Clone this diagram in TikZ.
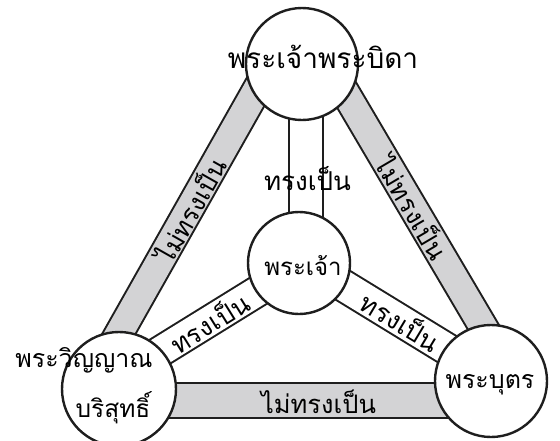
\documentclass[tikz,border=0pt]{standalone}
\usepackage{fontspec}
\newfontfamily\thai[Script=Thai]{Loma}
\definecolor{edge}{HTML}{1E1E1E}
\definecolor{bargrey}{HTML}{D3D3D5}
\begin{document}
\begin{tikzpicture}[x=1pt,y=-1pt,
  disc/.style={circle,draw=edge,line width=2.4pt,fill=white,inner sep=0pt},
  lbl/.style={inner sep=0pt,text=black},
  fs/.style={font=\thai\fontsize{#1}{#1}\selectfont}]
\useasboundingbox[fill=white] (0,0) rectangle (560,440);
% bar end coordinates
\coordinate (La) at (290.5,30);  \coordinate (Lb) at (81.5,400);
\coordinate (Ra) at (308.3,30);  \coordinate (Rb) at (526.3,400);
\coordinate (Ba) at (100,400.5); \coordinate (Bb) at (510,400.5);
\coordinate (Va) at (306,64);    \coordinate (Vb) at (306,263);
\coordinate (Pa) at (300,265);   \coordinate (Pb) at (119,377);
\coordinate (Qa) at (300,259);   \coordinate (Qb) at (491,376);
% outer grey bars
\foreach \a/\b/\w in {La/Lb/29,Ra/Rb/29,Ba/Bb/35}{
  \draw[edge,line width=\w pt+2pt] (\a) -- (\b);
  \draw[bargrey,line width=\w pt-2pt] (\a) -- (\b);
}
% inner white bars
\foreach \a/\b/\w in {Va/Vb/34,Pa/Pb/31,Qa/Qb/32}{
  \draw[edge,line width=\w pt+2pt] (\a) -- (\b);
  \draw[white,line width=\w pt-2pt] (\a) -- (\b);
}
% circles
\node[disc,minimum size=112pt] (father) at (302,64) {};
\node[disc,minimum size=114pt] (spirit) at (119,389) {};
\node[disc,minimum size=112pt] (son) at (491,381) {};
\node[disc,minimum size=102pt] (god) at (299,263) {};
% labels
\node[lbl,fs=28,anchor=base] (tfather) at (323,68) {พระเจ้าพระบิดา};
\node[lbl,fs=24,anchor=base] (tgod) at (303,275) {พระเจ้า};
\node[lbl,fs=25,anchor=base] (tson) at (490,388) {พระบุตร};
\node[lbl,fs=25,anchor=base] (tspirit1) at (84,367) {พระวิญญาณ};
\node[lbl,fs=24.5,anchor=base] (tspirit2) at (113,417) {บริสุทธิ์};
\node[lbl,fs=26,anchor=base] (tv) at (307.5,190) {ทรงเป็น};
\node[lbl,fs=25.5,anchor=base] (tb) at (318.5,413) {ไม่ทรงเป็น};
\node[lbl,fs=25.5,rotate=60.5] (tl) at (190,210) {ไม่ทรงเป็น};
\node[lbl,fs=25.5,rotate=-59.5] (tr) at (413,207) {ไม่ทรงเป็น};
\node[lbl,fs=26,rotate=32] (tp) at (209,322) {ทรงเป็น};
\node[lbl,fs=26,rotate=-31] (tq) at (401,321) {ทรงเป็น};
\end{tikzpicture}
\end{document}
